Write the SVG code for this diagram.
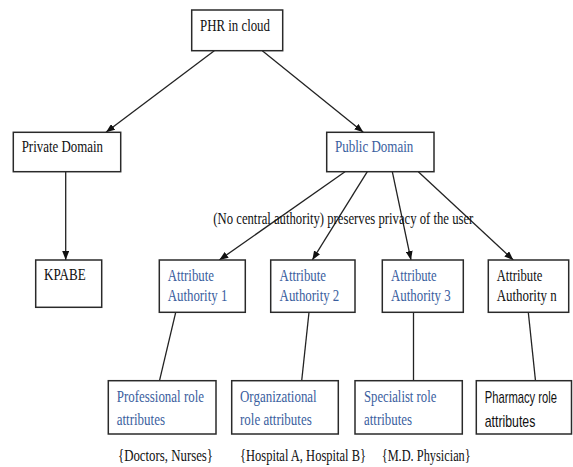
<svg xmlns="http://www.w3.org/2000/svg" width="573" height="467" viewBox="0 0 573 467">
<defs>
<marker id="ah" markerUnits="userSpaceOnUse" markerWidth="9" markerHeight="7" viewBox="0 0 9 7" refX="9" refY="3.5" orient="auto">
<path d="M0,0 L9,3.5 L0,7 z" fill="#111"/>
</marker>
</defs>
<style>
.box{fill:#fff;stroke:#2a2a2a;stroke-width:1.5}
.t{font-family:"Liberation Serif","Times New Roman",serif;font-size:17.5px;fill:#111}
.b{fill:#3a5e9e}
.s{font-family:"Liberation Sans",Arial,sans-serif;font-size:16px;fill:#111}
.c{stroke:#222;stroke-width:1.3;fill:none}
.a{marker-end:url(#ah)}
</style>
<rect width="573" height="467" fill="#fff"/>
<g id="connectors">
<line class="c a" x1="214.3" y1="50.7" x2="106" y2="132.3"/>
<line class="c a" x1="262.3" y1="50.7" x2="363.3" y2="132.3"/>
<line class="c a" x1="65.7" y1="171.7" x2="65.7" y2="260"/>
<line class="c a" x1="345" y1="171.7" x2="219.3" y2="260"/>
<line class="c a" x1="367.3" y1="171.7" x2="312.3" y2="260"/>
<line class="c a" x1="392.3" y1="171.7" x2="411" y2="260"/>
<line class="c a" x1="418.3" y1="171.7" x2="513.3" y2="260"/>
<line class="c" x1="175.7" y1="312.3" x2="159.5" y2="380.7"/>
<line class="c" x1="309" y1="312.3" x2="301.7" y2="380.7"/>
<line class="c" x1="413.5" y1="312.3" x2="413.5" y2="380.7"/>
<line class="c" x1="528.3" y1="312.3" x2="535.5" y2="380.7"/>
</g>
<g id="phr">
<rect class="box" x="191.7" y="10" width="91" height="40.7"/>
<text class="t" transform="translate(200 30.5) scale(0.75 1)" textLength="93.3" lengthAdjust="spacingAndGlyphs">PHR in cloud</text>
</g>
<g id="private">
<rect class="box" x="13.3" y="132.3" width="107.4" height="39.4"/>
<text class="t" transform="translate(21.7 152) scale(0.75 1)" textLength="108.4" lengthAdjust="spacingAndGlyphs">Private Domain</text>
</g>
<g id="public">
<rect class="box" x="326.7" y="132.3" width="107.3" height="39.4"/>
<text class="t b" transform="translate(335 152) scale(0.75 1)" textLength="104.4" lengthAdjust="spacingAndGlyphs">Public Domain</text>
</g>
<g id="label">
<text class="t" transform="translate(213.3 223.5) scale(0.75 1)" textLength="346.7" lengthAdjust="spacingAndGlyphs">(No central authority) preserves privacy of the user</text>
</g>
<g id="kpabe">
<rect class="box" x="35.7" y="260" width="66" height="47.3"/>
<text class="t" transform="translate(44 280) scale(0.75 1)" textLength="55.6" lengthAdjust="spacingAndGlyphs">KPABE</text>
</g>
<g id="aa1">
<rect class="box" x="159.3" y="260" width="86" height="52.3"/>
<text class="t b" transform="translate(167.7 281) scale(0.75 1)" textLength="61.7" lengthAdjust="spacingAndGlyphs">Attribute</text>
<text class="t b" transform="translate(167.7 300.5) scale(0.75 1)" textLength="79.5" lengthAdjust="spacingAndGlyphs">Authority 1</text>
</g>
<g id="aa2">
<rect class="box" x="270.7" y="260" width="84.3" height="52.3"/>
<text class="t b" transform="translate(279.6 281) scale(0.75 1)" textLength="61.9" lengthAdjust="spacingAndGlyphs">Attribute</text>
<text class="t b" transform="translate(279.6 300.5) scale(0.75 1)" textLength="79.6" lengthAdjust="spacingAndGlyphs">Authority 2</text>
</g>
<g id="aa3">
<rect class="box" x="382.3" y="260" width="81" height="52.3"/>
<text class="t b" transform="translate(391 281) scale(0.75 1)" textLength="60.9" lengthAdjust="spacingAndGlyphs">Attribute</text>
<text class="t b" transform="translate(391 300.5) scale(0.75 1)" textLength="79.6" lengthAdjust="spacingAndGlyphs">Authority 3</text>
</g>
<g id="aan">
<rect class="box" x="488.3" y="260" width="80.4" height="52.3"/>
<text class="t" transform="translate(496.7 281) scale(0.75 1)" textLength="60.8" lengthAdjust="spacingAndGlyphs">Attribute</text>
<text class="t" transform="translate(496.7 300.5) scale(0.75 1)" textLength="80" lengthAdjust="spacingAndGlyphs">Authority n</text>
</g>
<g id="prof">
<rect class="box" x="108.3" y="380.7" width="107.7" height="53.3"/>
<text class="t b" transform="translate(116.7 401.7) scale(0.75 1)" textLength="116.4" lengthAdjust="spacingAndGlyphs">Professional role</text>
<text class="t b" transform="translate(116.7 425) scale(0.75 1)" textLength="64.4" lengthAdjust="spacingAndGlyphs">attributes</text>
</g>
<g id="org">
<rect class="box" x="231.7" y="380.7" width="106.6" height="53.3"/>
<text class="t b" transform="translate(240 401.7) scale(0.75 1)" textLength="102.3" lengthAdjust="spacingAndGlyphs">Organizational</text>
<text class="t b" transform="translate(240 425) scale(0.75 1)" textLength="95.6" lengthAdjust="spacingAndGlyphs">role attributes</text>
</g>
<g id="spec">
<rect class="box" x="355" y="380.7" width="107.3" height="53.3"/>
<text class="t b" transform="translate(364 401.7) scale(0.75 1)" textLength="96.4" lengthAdjust="spacingAndGlyphs">Specialist role</text>
<text class="t b" transform="translate(364 425) scale(0.75 1)" textLength="64" lengthAdjust="spacingAndGlyphs">attributes</text>
</g>
<g id="pharm">
<rect class="box" x="476.3" y="380.7" width="95.2" height="53.3"/>
<text class="s" transform="translate(484.7 403) scale(0.7 1)" textLength="103.3" lengthAdjust="spacingAndGlyphs">Pharmacy role</text>
<text class="s" transform="translate(484.7 426.5) scale(0.7 1)" textLength="72.3" lengthAdjust="spacingAndGlyphs">attributes</text>
</g>
<g id="sets">
<text class="t" transform="translate(118 460.5) scale(0.75 1)" textLength="126.7" lengthAdjust="spacingAndGlyphs">{Doctors, Nurses}</text>
<text class="t" transform="translate(240 460.5) scale(0.75 1)" textLength="168" lengthAdjust="spacingAndGlyphs">{Hospital A, Hospital B}</text>
<text class="t" transform="translate(381.7 460.5) scale(0.75 1)" textLength="118.7" lengthAdjust="spacingAndGlyphs">{M.D. Physician}</text>
</g>
</svg>
